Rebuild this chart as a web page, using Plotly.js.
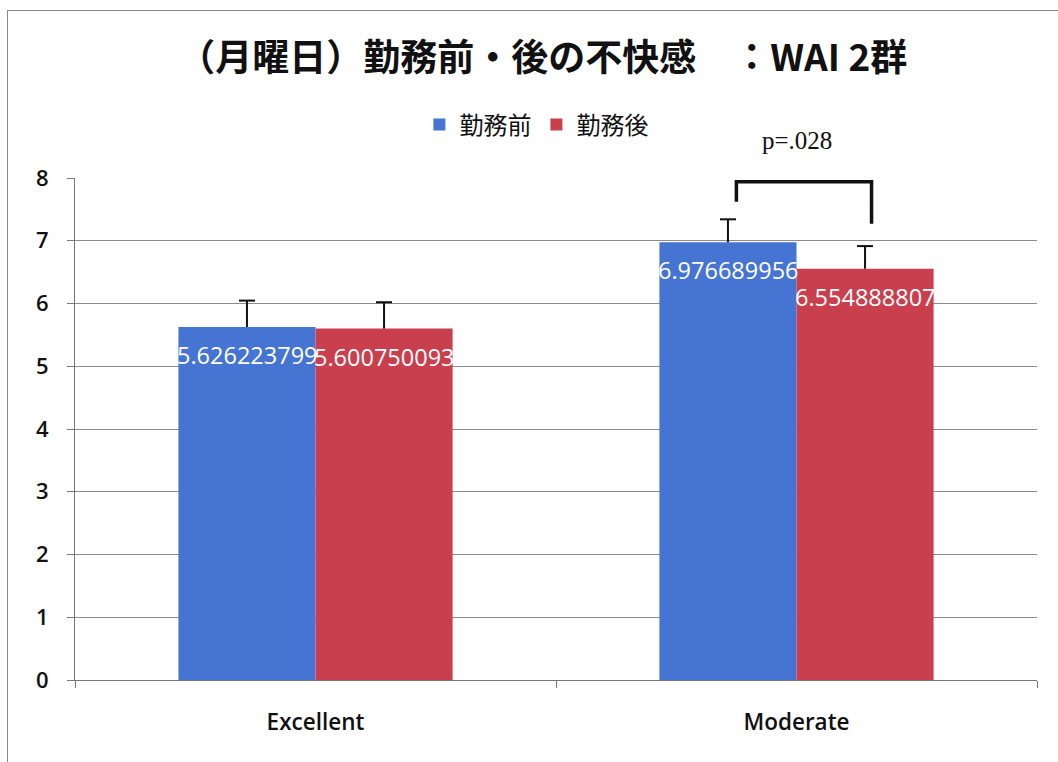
<!DOCTYPE html>
<html><head><meta charset="utf-8">
<script src="https://cdn.plot.ly/plotly-3.0.1.min.js"></script>
<style>
html,body{margin:0;padding:0;background:#fff;}
#frame{position:absolute;left:7px;top:10px;width:1100px;height:800px;border-left:1px solid #8a8a8a;border-top:1px solid #8a8a8a;pointer-events:none;z-index:5;}
#chart{position:absolute;left:0;top:0;width:1058px;height:762px;}
</style></head>
<body>
<div id="chart"></div>
<div id="frame"></div>
<script>
const categories = ["Excellent", "Moderate"];
const beforeValues = [5.626223799, 6.976689956];
const afterValues = [5.600750093, 6.554888807];
const beforeErr = [0.42, 0.365];
const afterErr = [0.42, 0.36];
const seriesNames = ["勤務前", "勤務後"];
const pLabel = "p=.028";
const yTicks = [0,1,2,3,4,5,6,7,8];

const colors = ["#4674d2", "#c93f4e"];
const series = [
  {name: seriesNames[0], values: beforeValues, err: beforeErr, color: colors[0], off: -68.5},
  {name: seriesNames[1], values: afterValues, err: afterErr, color: colors[1], off: 68.5}
];

const traces = series.map(s => ({
  type: "bar", name: s.name, x: categories, y: s.values,
  marker: {color: s.color},
  hoverinfo: "none",
  error_y: {type: "data", symmetric: false, array: s.err, arrayminus: s.values.map(() => 0),
            color: "#111", thickness: 2, width: 0}
}));

const labelFont = {family: "Open Sans, Noto Sans, sans-serif", size: 23.5, color: "#ffffff"};
const annotations = [];
const shapes = [];
series.forEach(s => {
  s.values.forEach((v, i) => {
    annotations.push({x: categories[i], xref: "x", y: v, yref: "y", text: String(v),
      showarrow: false, xshift: s.off, yshift: -28, xanchor: "center", yanchor: "middle",
      font: labelFont});
    shapes.push({type: "line", xref: "x", yref: "y", xsizemode: "pixel", xanchor: i,
      x0: s.off - 8, x1: s.off + 8, y0: v + s.err[i], y1: v + s.err[i],
      line: {color: "#111", width: 2}});
  });
});

// significance bracket (category index 1 = Moderate)
const bracketLeft = 1 - 0.125, bracketRight = 1 + 0.156;
const bracketTop = 7.94, bracketLeftBottom = 7.62, bracketRightBottom = 7.27;
shapes.push({type: "path", xref: "x", yref: "y",
  path: `M ${bracketLeft} ${bracketLeftBottom} L ${bracketLeft} ${bracketTop} L ${bracketRight} ${bracketTop} L ${bracketRight} ${bracketRightBottom}`,
  line: {color: "#111", width: 3.5}});
annotations.push({x: categories[1], xref: "x", y: 8.59 / 8, yref: "paper", text: pLabel, showarrow: false,
  font: {family: "Liberation Serif, serif", size: 25, color: "#111"}, xanchor: "center", yanchor: "middle"});

const layout = {
  width: 1058, height: 762,
  paper_bgcolor: "#ffffff", plot_bgcolor: "#ffffff",
  margin: {l: 75, r: 21, t: 178, b: 82},
  title: {text: "<b>（月曜日）勤務前・後の不快感　：WAI 2群</b>",
          font: {family: "Noto Sans CJK JP, sans-serif", size: 37, color: "#111"},
          x: 0.513, xanchor: "center", y: 1 - 58/762, yref: "container", yanchor: "middle"},
  barmode: "group", bargap: 0.43, bargroupgap: 0,
  showlegend: true,
  legend: {orientation: "h", x: 0.507, xanchor: "center", xref: "container",
           y: 1 - 125/762, yref: "container", yanchor: "middle",
           font: {family: "Noto Sans CJK JP, sans-serif", size: 24, color: "#111"},
           itemwidth: 30, traceorder: "normal"},
  hovermode: false,
  xaxis: {type: "category", tickson: "boundaries", ticks: "outside", ticklen: 7, tickcolor: "#777",
          showline: true, linecolor: "#777", linewidth: 1, showgrid: false, ticklabelstandoff: 22,
          tickfont: {family: "Open Sans, sans-serif", size: 22.5, weight: 600, color: "#111"}},
  yaxis: {range: [0, 8], tickvals: yTicks, ticks: "outside", ticklen: 7, tickcolor: "#777",
          showline: true, linecolor: "#777", showgrid: true, gridcolor: "#8c8c8c", gridwidth: 1,
          zeroline: false, ticklabelstandoff: 14,
          tickfont: {family: "Open Sans, sans-serif", size: 22, weight: 600, color: "#111"}},
  shapes: shapes,
  annotations: annotations
};

Plotly.newPlot("chart", traces, layout, {displayModeBar: false});
</script>
</body></html>
